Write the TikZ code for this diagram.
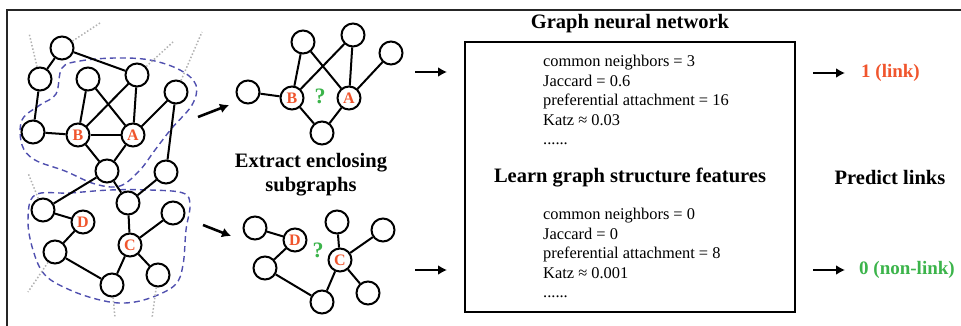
\documentclass[tikz,border=0pt]{standalone}
\usepackage{fontspec}
\setmainfont{Liberation Serif}
\usetikzlibrary{arrows.meta}
\pgfdeclarelayer{background}
\pgfsetlayers{background,main}
\definecolor{labelred}{RGB}{240,85,45}
\definecolor{labelgreen}{RGB}{60,180,75}
\definecolor{hullblue}{RGB}{80,80,175}
\tikzstyle{vertex}=[draw, circle, line width=2pt, minimum size=23pt, inner sep=0pt,
  fill=white, text=labelred, font=\fontsize{16}{16}\selectfont\bfseries]
\tikzstyle{edge}=[draw, line width=2pt]
\tikzstyle{outer}=[draw, gray!60, line width=1.5pt, dotted]
\tikzstyle{hull}=[draw, hullblue, line width=1.4pt, dash pattern=on 6pt off 4pt]
\tikzstyle{line}=[draw, line width=2.6pt, -{Latex[length=9pt,width=10pt]}]
\tikzstyle{title}=[font=\fontsize{20.5}{24}\selectfont\bfseries, align=center]
\tikzstyle{result}=[anchor=west, inner sep=0pt, font=\fontsize{19}{22}\selectfont\bfseries]
\tikzstyle{features}=[anchor=north west, inner sep=0pt, align=left,
  font=\fontsize{16.4}{19.5}\selectfont]
\tikzstyle{guess}=[text=labelgreen, font=\fontsize{22}{22}\selectfont\bfseries]
\newcommand{\vtx}[2]{node (#1) [vertex] {#2}}

\begin{document}
\begin{tikzpicture}[x=1pt,y=-1pt]
\useasboundingbox (0,0) rectangle (961,326);
\draw[gray!30!black, line width=1.5pt] (7,326) -- (7,10) -- (961,10);

% Draw the whole graph
\path (62,48)   \vtx{g1}{};
\path (40,79)   \vtx{g2}{};
\path (88,79)   \vtx{g3}{};
\path (137,75)  \vtx{g4}{};
\path (176,92)  \vtx{g5}{};
\path (33,132)  \vtx{g6}{};
\path (78,135)  \vtx{gB}{B};
\path (133,135) \vtx{gA}{A};
\path (107,171) \vtx{g7}{};
\path (166,172) \vtx{g8}{};
\path (43,210)  \vtx{g9}{};
\path (83,222)  \vtx{gD}{D};
\path (128,203) \vtx{g10}{};
\path (173,213) \vtx{g11}{};
\path (130,245) \vtx{gC}{C};
\path (55,252)  \vtx{g12}{};
\path (158,275) \vtx{g13}{};
\path (112,285) \vtx{g14}{};

\path [edge] (g1) -- (g2);
\path [edge] (g1) -- (g4);
\path [edge] (g2) -- (g6);
\path [edge] (g6) -- (gB);
\path [edge] (gB) -- (gA);
\path [edge] (gB) -- (g3);
\path [edge] (g3) -- (gA);
\path [edge] (gB) -- (g4);
\path [edge] (g4) -- (gA);
\path [edge] (gA) -- (g5);
\path [edge] (g5) -- (g8);
\path [edge] (gB) -- (g7);
\path [edge] (gA) -- (g7);
\path [edge] (g7) -- (g9);
\path [edge] (g7) -- (g10);
\path [edge] (g8) -- (g10);
\path [edge] (g10) -- (gC);
\path [edge] (gC) -- (g11);
\path [edge] (gC) -- (g13);
\path [edge] (gC) -- (g14);
\path [edge] (g9) -- (gD);
\path [edge] (gD) -- (g12);
\path [edge] (g12) -- (g14);

% Rest of the network (dotted)
\coordinate (o1) at (100,23);
\coordinate (o2) at (29,33);
\coordinate (o3) at (173,42);
\coordinate (o4) at (202,32);
\coordinate (o5) at (28,173);
\coordinate (o6) at (28,292);
\coordinate (o7) at (115,318);
\coordinate (o8) at (152,318);
\path [outer] (g1) -- (o1);
\path [outer] (g2) -- (o2);
\path [outer] (g4) -- (o3);
\path [outer] (g5) -- (o4);
\path [outer] (g9) -- (o5);
\path [outer] (g12) -- (o6);
\path [outer] (g14) -- (o7);
\path [outer] (g13) -- (o8);

% Enclosing regions
\begin{pgfonlayer}{background}
  \path [hull] plot [smooth cycle, tension=0.6] coordinates {(62,68) (80,61)
    (115,58) (150,60) (180,70) (196,85) (192,105) (172,128) (155,150)
    (140,170) (120,186) (95,184) (65,171) (35,160) (22,145) (22,120)
    (40,105) (56,94)};
  \path [hull] plot [smooth cycle, tension=0.6] coordinates {(35,195)
    (70,193) (110,190) (150,190) (183,193) (190,205) (186,230) (183,265)
    (175,285) (150,298) (125,303) (100,300) (70,290) (45,275) (33,250)
    (28,220)};
\end{pgfonlayer}

% Extracted subgraphs
\path (248,92)  \vtx{s1}{};
\path (292,98)  \vtx{sB}{B};
\path (303,42)  \vtx{s2}{};
\path (353,35)  \vtx{s3}{};
\path (391,53)  \vtx{s4}{};
\path (349,98)  \vtx{sA}{A};
\path (322,133) \vtx{s5}{};
\path (320,96) node (sq) [guess] {?};
\path [edge] (s1) -- (sB);
\path [edge] (sB) -- (s2);
\path [edge] (s2) -- (sA);
\path [edge] (sB) -- (s3);
\path [edge] (s3) -- (sA);
\path [edge] (sA) -- (s4);
\path [edge] (sB) -- (s5);
\path [edge] (sA) -- (s5);

\path (255,228) \vtx{t1}{};
\path (295,240) \vtx{tD}{D};
\path (265,268) \vtx{t2}{};
\path (322,302) \vtx{t3}{};
\path (340,260) \vtx{tC}{C};
\path (337,222) \vtx{t4}{};
\path (383,230) \vtx{t5}{};
\path (368,293) \vtx{t6}{};
\path (318,250) node (tq) [guess] {?};
\path [edge] (t1) -- (tD);
\path [edge] (tD) -- (t2);
\path [edge] (t2) -- (t3);
\path [edge] (t3) -- (tC);
\path [edge] (tC) -- (t4);
\path [edge] (tC) -- (t5);
\path [edge] (tC) -- (t6);

\path (311,175) node (extract) [title] {Extract enclosing\\subgraphs};

% Graph neural network
\path (630,177) node (gnn) [draw, line width=2.8pt, minimum width=330pt,
  minimum height=270pt] {};
\path (630,24) node (gnntitle) [title] {Graph neural network};
\path (630,178) node (learn) [title] {Learn graph structure features};
\path (543,55) node (feat1) [features] {common neighbors = 3\\Jaccard = 0.6\\
  preferential attachment = 16\\Katz ≈ 0.03\\......};
\path (543,208) node (feat2) [features] {common neighbors = 0\\Jaccard = 0\\
  preferential attachment = 8\\Katz ≈ 0.001\\......};

% Predictions
\path (861,73) node (pos) [result, text=labelred] {1 (link)};
\path (859,270) node (neg) [result, text=labelgreen] {0 (non-link)};
\path (890,177) node (predict) [title] {Predict links};

% Draw arrows
\coordinate (e1s) at (198,117); \coordinate (e1e) at (229,105);
\coordinate (e2s) at (203,225); \coordinate (e2e) at (231,236);
\coordinate (m1s) at (415,72);  \coordinate (m1e) at (447,72);
\coordinate (m2s) at (415,270); \coordinate (m2e) at (447,270);
\coordinate (r1s) at (813,73);  \coordinate (r1e) at (845,73);
\coordinate (r2s) at (813,270); \coordinate (r2e) at (845,270);
\path [line] (e1s) -- (e1e);
\path [line] (e2s) -- (e2e);
\path [line] (m1s) -- (m1e);
\path [line] (m2s) -- (m2e);
\path [line] (r1s) -- (r1e);
\path [line] (r2s) -- (r2e);
\end{tikzpicture}
\end{document}
